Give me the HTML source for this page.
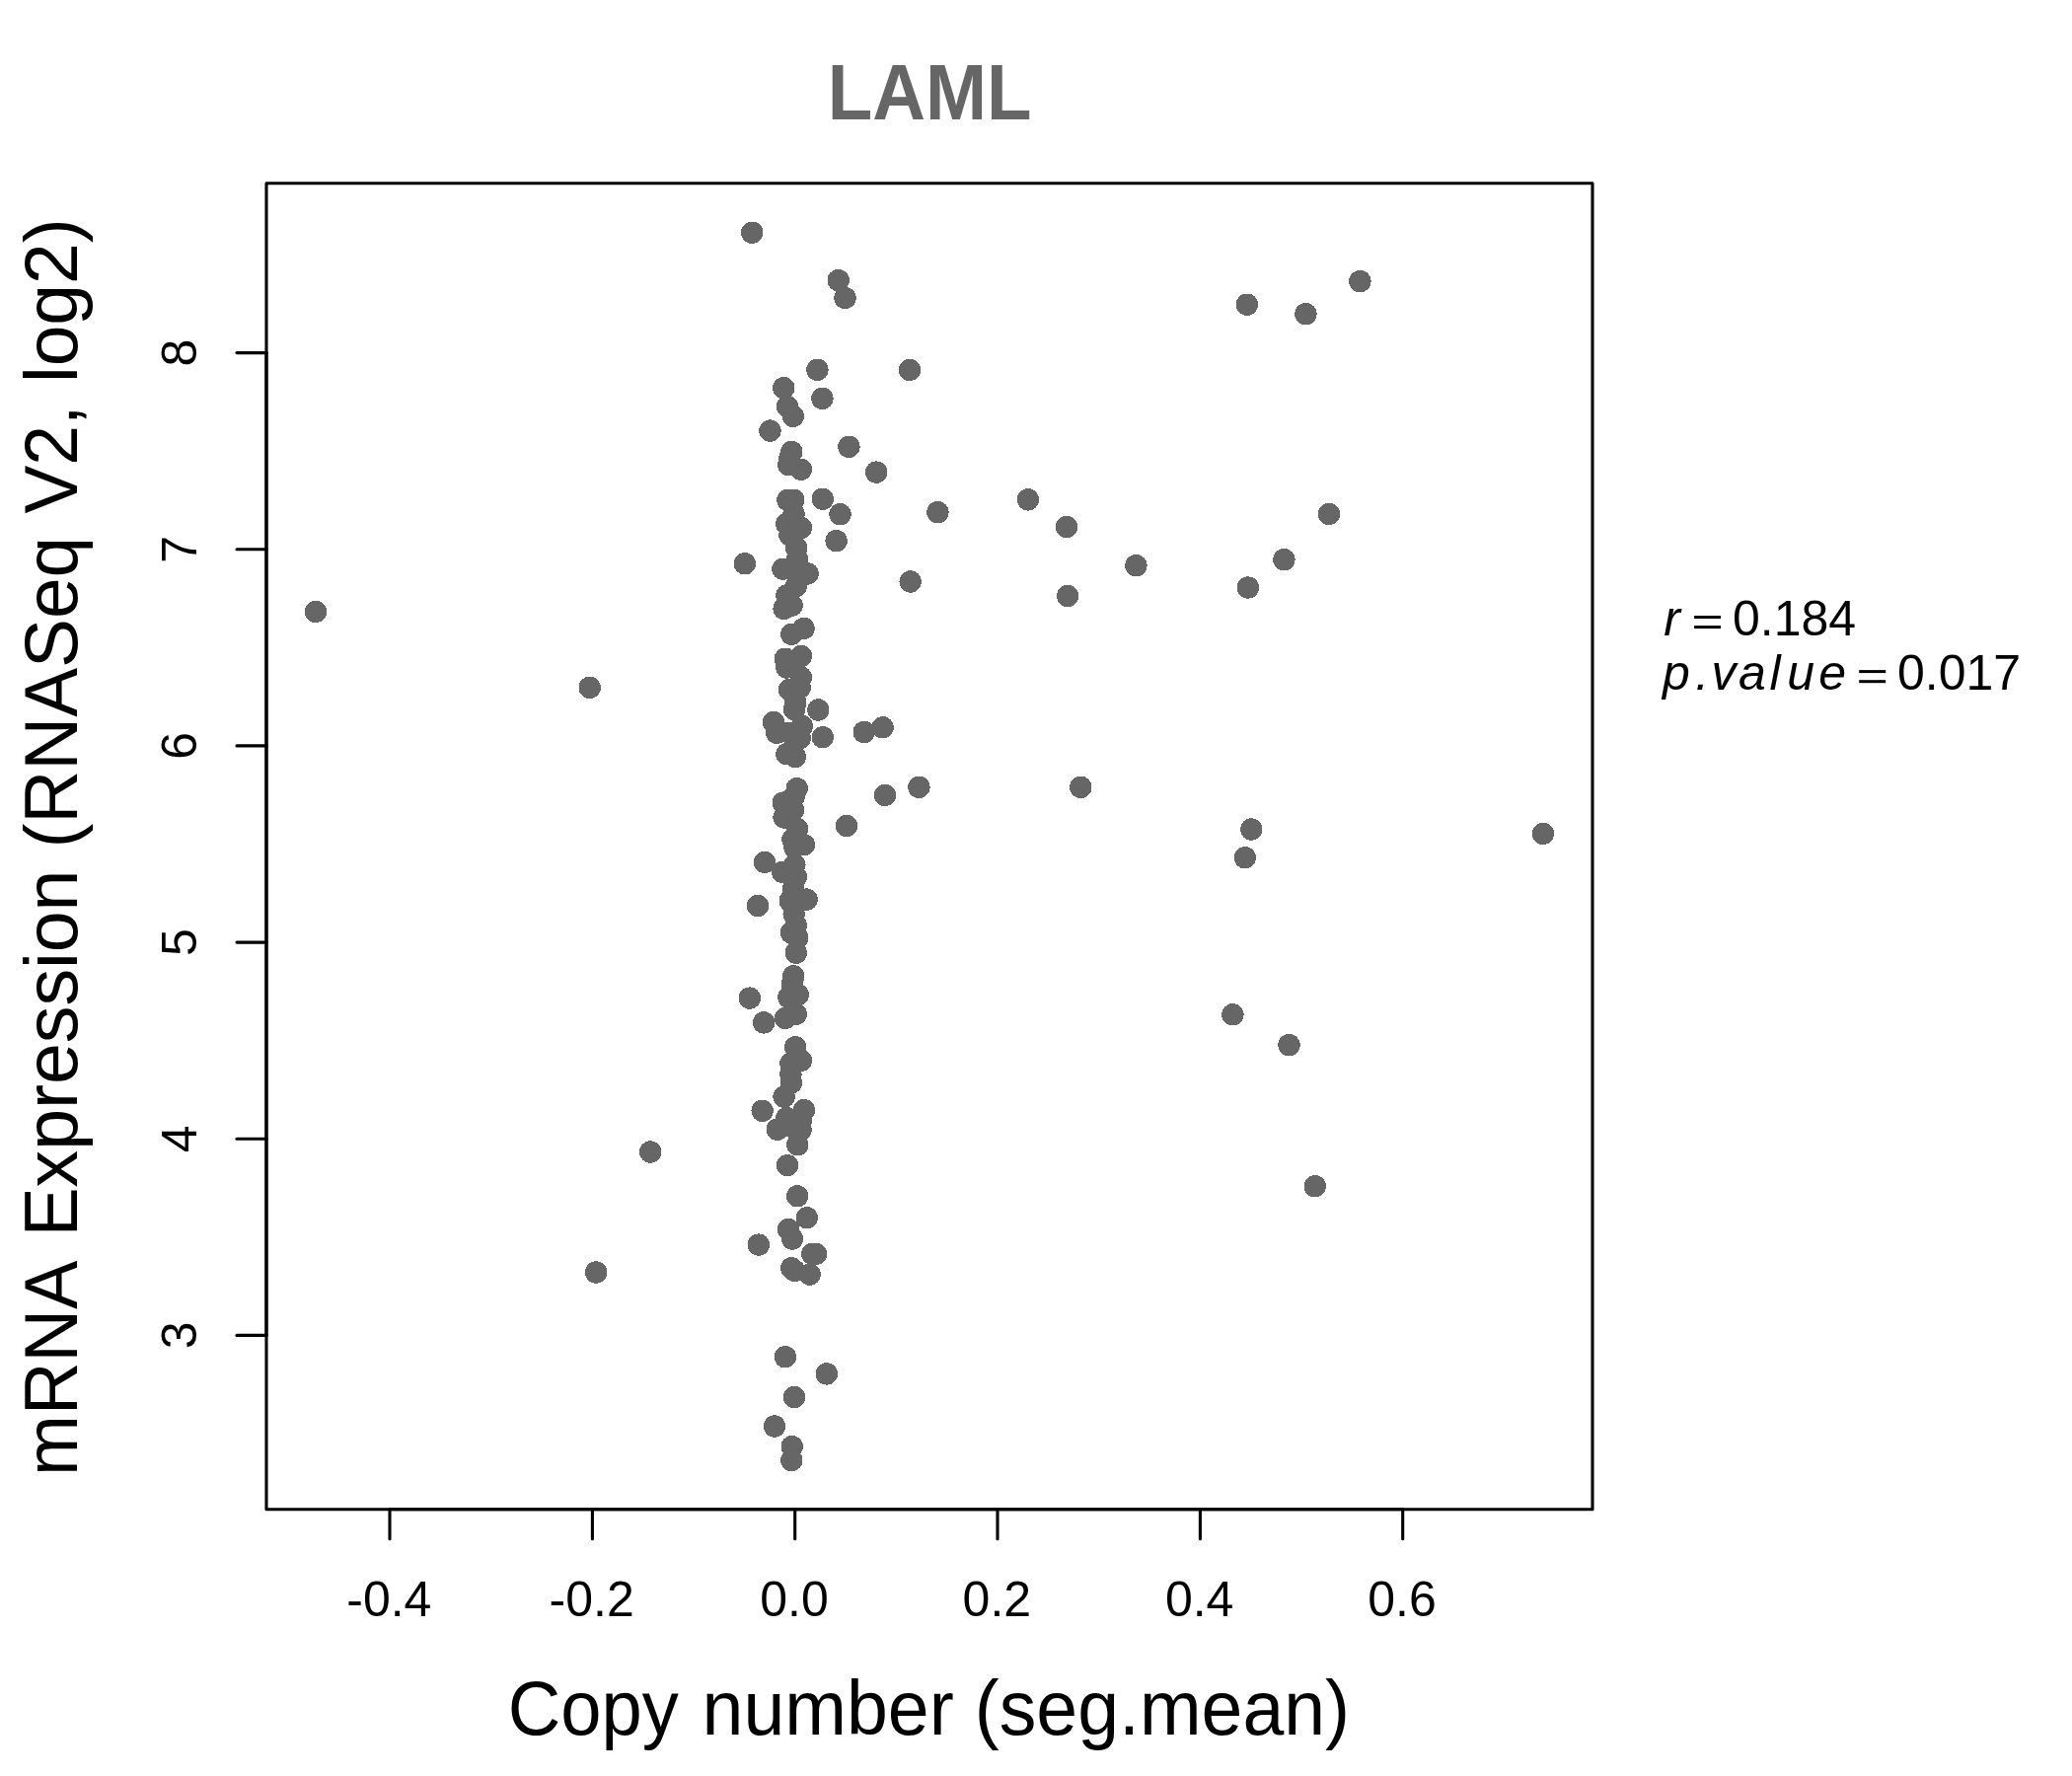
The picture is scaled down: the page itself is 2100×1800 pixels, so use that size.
<!DOCTYPE html>
<html><head><meta charset="utf-8"><title>LAML</title>
<style>
html,body{margin:0;padding:0;background:#fff;}
body{width:2100px;height:1800px;overflow:hidden;}
svg{display:block;}
text{font-family:"Liberation Sans",sans-serif;}
</style></head><body>
<svg width="2100" height="1800" viewBox="0 0 2100 1800">
<rect x="0" y="0" width="2100" height="1800" fill="#ffffff"/>
<g fill="#666666" shape-rendering="crispEdges">
<circle cx="762.2" cy="235.7" r="11.2"/><circle cx="849.7" cy="284.1" r="11.2"/><circle cx="856.5" cy="302.0" r="11.2"/><circle cx="828.4" cy="374.9" r="11.2"/><circle cx="922.0" cy="374.9" r="11.2"/><circle cx="794.3" cy="393.1" r="11.2"/><circle cx="833.4" cy="403.9" r="11.2"/><circle cx="798.0" cy="411.8" r="11.2"/><circle cx="803.8" cy="421.9" r="11.2"/><circle cx="780.5" cy="436.6" r="11.2"/><circle cx="860.4" cy="452.8" r="11.2"/><circle cx="802.3" cy="458.0" r="11.2"/><circle cx="799.3" cy="471.1" r="11.2"/><circle cx="811.9" cy="475.8" r="11.2"/><circle cx="888.2" cy="478.6" r="11.2"/><circle cx="833.8" cy="505.7" r="11.2"/><circle cx="798.4" cy="507.0" r="11.2"/><circle cx="804.3" cy="506.8" r="11.2"/><circle cx="851.5" cy="521.2" r="11.2"/><circle cx="950.4" cy="519.2" r="11.2"/><circle cx="804.5" cy="520.8" r="11.2"/><circle cx="797.2" cy="530.9" r="11.2"/><circle cx="811.9" cy="535.0" r="11.2"/><circle cx="800.5" cy="542.5" r="11.2"/><circle cx="807.2" cy="555.4" r="11.2"/><circle cx="808.0" cy="567.0" r="11.2"/><circle cx="793.5" cy="576.7" r="11.2"/><circle cx="818.6" cy="581.4" r="11.2"/><circle cx="807.4" cy="580.5" r="11.2"/><circle cx="806.8" cy="594.0" r="11.2"/><circle cx="797.3" cy="603.5" r="11.2"/><circle cx="802.7" cy="613.6" r="11.2"/><circle cx="794.6" cy="617.0" r="11.2"/><circle cx="847.6" cy="548.1" r="11.2"/><circle cx="754.9" cy="571.3" r="11.2"/><circle cx="922.7" cy="589.5" r="11.2"/><circle cx="320.0" cy="619.9" r="11.2"/><circle cx="597.7" cy="696.9" r="11.2"/><circle cx="814.6" cy="637.0" r="11.2"/><circle cx="802.3" cy="642.7" r="11.2"/><circle cx="811.9" cy="665.0" r="11.2"/><circle cx="795.9" cy="667.7" r="11.2"/><circle cx="797.3" cy="676.5" r="11.2"/><circle cx="811.9" cy="686.6" r="11.2"/><circle cx="800.0" cy="698.8" r="11.2"/><circle cx="810.8" cy="696.8" r="11.2"/><circle cx="806.3" cy="712.0" r="11.2"/><circle cx="805.0" cy="719.0" r="11.2"/><circle cx="829.3" cy="719.5" r="11.2"/><circle cx="784.1" cy="731.9" r="11.2"/><circle cx="812.8" cy="736.0" r="11.2"/><circle cx="787.2" cy="742.7" r="11.2"/><circle cx="800.0" cy="742.7" r="11.2"/><circle cx="810.8" cy="748.1" r="11.2"/><circle cx="797.3" cy="764.3" r="11.2"/><circle cx="805.8" cy="767.0" r="11.2"/><circle cx="833.8" cy="747.2" r="11.2"/><circle cx="875.7" cy="742.0" r="11.2"/><circle cx="894.6" cy="737.3" r="11.2"/><circle cx="931.4" cy="797.8" r="11.2"/><circle cx="897.0" cy="805.9" r="11.2"/><circle cx="858.1" cy="837.0" r="11.2"/><circle cx="807.7" cy="799.1" r="11.2"/><circle cx="804.7" cy="807.6" r="11.2"/><circle cx="793.9" cy="813.6" r="11.2"/><circle cx="804.1" cy="821.1" r="11.2"/><circle cx="794.6" cy="828.5" r="11.2"/><circle cx="808.1" cy="840.0" r="11.2"/><circle cx="803.4" cy="850.8" r="11.2"/><circle cx="814.9" cy="856.2" r="11.2"/><circle cx="805.4" cy="858.9" r="11.2"/><circle cx="775.0" cy="873.8" r="11.2"/><circle cx="805.4" cy="876.5" r="11.2"/><circle cx="793.2" cy="883.9" r="11.2"/><circle cx="806.8" cy="888.6" r="11.2"/><circle cx="817.6" cy="911.6" r="11.2"/><circle cx="800.7" cy="913.0" r="11.2"/><circle cx="804.7" cy="926.5" r="11.2"/><circle cx="806.8" cy="938.0" r="11.2"/><circle cx="802.0" cy="945.4" r="11.2"/><circle cx="808.1" cy="950.5" r="11.2"/><circle cx="806.8" cy="965.7" r="11.2"/><circle cx="768.0" cy="918.1" r="11.2"/><circle cx="804.3" cy="989.3" r="11.2"/><circle cx="802.7" cy="998.1" r="11.2"/><circle cx="808.8" cy="1008.2" r="11.2"/><circle cx="799.3" cy="1010.9" r="11.2"/><circle cx="759.9" cy="1011.6" r="11.2"/><circle cx="806.8" cy="1027.8" r="11.2"/><circle cx="795.9" cy="1031.9" r="11.2"/><circle cx="774.1" cy="1036.4" r="11.2"/><circle cx="806.1" cy="1061.2" r="11.2"/><circle cx="811.9" cy="1074.9" r="11.2"/><circle cx="801.4" cy="1077.8" r="11.2"/><circle cx="801.4" cy="1088.6" r="11.2"/><circle cx="802.0" cy="1097.4" r="11.2"/><circle cx="794.6" cy="1111.6" r="11.2"/><circle cx="772.6" cy="1125.8" r="11.2"/><circle cx="814.9" cy="1125.1" r="11.2"/><circle cx="797.3" cy="1133.2" r="11.2"/><circle cx="812.2" cy="1134.6" r="11.2"/><circle cx="787.8" cy="1144.7" r="11.2"/><circle cx="811.5" cy="1145.4" r="11.2"/><circle cx="808.3" cy="1160.3" r="11.2"/><circle cx="798.0" cy="1181.2" r="11.2"/><circle cx="808.1" cy="1212.3" r="11.2"/><circle cx="817.8" cy="1234.2" r="11.2"/><circle cx="799.1" cy="1246.1" r="11.2"/><circle cx="803.0" cy="1255.5" r="11.2"/><circle cx="768.9" cy="1261.6" r="11.2"/><circle cx="823.2" cy="1270.8" r="11.2"/><circle cx="827.0" cy="1270.8" r="11.2"/><circle cx="802.3" cy="1285.3" r="11.2"/><circle cx="805.4" cy="1288.0" r="11.2"/><circle cx="820.7" cy="1291.6" r="11.2"/><circle cx="795.9" cy="1375.2" r="11.2"/><circle cx="837.8" cy="1392.4" r="11.2"/><circle cx="805.0" cy="1416.1" r="11.2"/><circle cx="785.0" cy="1445.5" r="11.2"/><circle cx="802.7" cy="1466.1" r="11.2"/><circle cx="802.3" cy="1480.0" r="11.2"/><circle cx="659.2" cy="1167.5" r="11.2"/><circle cx="604.1" cy="1289.5" r="11.2"/><circle cx="1378.4" cy="285.1" r="11.2"/><circle cx="1263.9" cy="308.7" r="11.2"/><circle cx="1323.4" cy="318.2" r="11.2"/><circle cx="1042.0" cy="506.4" r="11.2"/><circle cx="1081.1" cy="534.1" r="11.2"/><circle cx="1347.0" cy="520.9" r="11.2"/><circle cx="1301.4" cy="567.2" r="11.2"/><circle cx="1151.4" cy="573.2" r="11.2"/><circle cx="1264.9" cy="595.5" r="11.2"/><circle cx="1082.2" cy="604.0" r="11.2"/><circle cx="1095.3" cy="797.9" r="11.2"/><circle cx="1268.3" cy="840.5" r="11.2"/><circle cx="1563.9" cy="844.9" r="11.2"/><circle cx="1261.9" cy="869.2" r="11.2"/><circle cx="1249.4" cy="1028.3" r="11.2"/><circle cx="1306.5" cy="1059.1" r="11.2"/><circle cx="1332.8" cy="1202.3" r="11.2"/><circle cx="800.3" cy="464.7" r="11.2"/><circle cx="804.1" cy="900.8" r="11.2"/><circle cx="800.0" cy="1141.4" r="11.2"/>
</g>
<g stroke="#000" stroke-width="3.1" fill="none" stroke-linecap="round" stroke-linejoin="round">
<rect x="270.0" y="185.7" width="1344.0" height="1344.1"/>
<line x1="395.0" y1="1529.8" x2="1421.7" y2="1529.8"/>
<line x1="395.0" y1="1529.8" x2="395.0" y2="1559.8"/><line x1="600.4" y1="1529.8" x2="600.4" y2="1559.8"/><line x1="805.7" y1="1529.8" x2="805.7" y2="1559.8"/><line x1="1011.0" y1="1529.8" x2="1011.0" y2="1559.8"/><line x1="1216.4" y1="1529.8" x2="1216.4" y2="1559.8"/><line x1="1421.7" y1="1529.8" x2="1421.7" y2="1559.8"/>
<line x1="270.0" y1="357.6" x2="270.0" y2="1353.4"/>
<line x1="270.0" y1="357.6" x2="240.0" y2="357.6"/><line x1="270.0" y1="556.8" x2="240.0" y2="556.8"/><line x1="270.0" y1="755.9" x2="240.0" y2="755.9"/><line x1="270.0" y1="955.1" x2="240.0" y2="955.1"/><line x1="270.0" y1="1154.2" x2="240.0" y2="1154.2"/><line x1="270.0" y1="1353.4" x2="240.0" y2="1353.4"/>
</g>
<text transform="translate(942.15 120.90) scale(0.9310 1.0000)" font-size="80" text-anchor="middle" fill="#666666" font-weight="bold">LAML</text>
<text transform="translate(514.70 1758.10) scale(0.9895 1.0300)" font-size="75" text-anchor="start" fill="#000" >Copy</text>
<text transform="translate(711.60 1758.10) scale(1.0036 1.0300)" font-size="75" text-anchor="start" fill="#000" >number</text>
<text transform="translate(987.70 1758.10) scale(1.0030 1.0300)" font-size="75" text-anchor="start" fill="#000" >(seg.mean)</text>
<text transform="translate(78.00 1495.90) rotate(-90) scale(0.9890 1.0150)" font-size="75" text-anchor="start" fill="#000" >mRNA</text>
<text transform="translate(78.00 1253.60) rotate(-90) scale(1.0030 1.0150)" font-size="75" text-anchor="start" fill="#000" >Expression</text>
<text transform="translate(78.00 859.50) rotate(-90) scale(0.9960 1.0150)" font-size="75" text-anchor="start" fill="#000" >(RNASeq</text>
<text transform="translate(78.00 520.60) rotate(-90) scale(0.9780 1.0150)" font-size="75" text-anchor="start" fill="#000" >V2,</text>
<text transform="translate(78.00 388.00) rotate(-90) scale(1.0000 1.0150)" font-size="75" text-anchor="start" fill="#000" >log2)</text>
<text transform="translate(394.34 1638.30)" font-size="50" text-anchor="middle" fill="#000" >-0.4</text>
<text transform="translate(599.67 1638.30)" font-size="50" text-anchor="middle" fill="#000" >-0.2</text>
<text transform="translate(805.00 1638.30)" font-size="50" text-anchor="middle" fill="#000" >0.0</text>
<text transform="translate(1010.33 1638.30)" font-size="50" text-anchor="middle" fill="#000" >0.2</text>
<text transform="translate(1215.66 1638.30)" font-size="50" text-anchor="middle" fill="#000" >0.4</text>
<text transform="translate(1420.99 1638.30)" font-size="50" text-anchor="middle" fill="#000" >0.6</text>
<text transform="translate(199.10 357.60) rotate(-90)" font-size="50" text-anchor="middle" fill="#000" >8</text>
<text transform="translate(199.10 556.76) rotate(-90)" font-size="50" text-anchor="middle" fill="#000" >7</text>
<text transform="translate(199.10 755.92) rotate(-90)" font-size="50" text-anchor="middle" fill="#000" >6</text>
<text transform="translate(199.10 955.08) rotate(-90)" font-size="50" text-anchor="middle" fill="#000" >5</text>
<text transform="translate(199.10 1154.24) rotate(-90)" font-size="50" text-anchor="middle" fill="#000" >4</text>
<text transform="translate(199.10 1353.40) rotate(-90)" font-size="50" text-anchor="middle" fill="#000" >3</text>
<text transform="translate(1686.30 644.10)" font-size="50" text-anchor="start" fill="#000" font-style="italic" >r</text>
<text transform="translate(1756.00 644.10)" font-size="50" text-anchor="start" fill="#000" >0.184</text>
<text transform="translate(1685.00 699.20)" font-size="50" text-anchor="start" fill="#000" font-style="italic" letter-spacing="3.5" dx="0 1.9 -1.2 -1.0 0.3 3 0.7" >p.value</text>
<text transform="translate(1923.00 699.20)" font-size="50" text-anchor="start" fill="#000" >0.017</text>
<rect x="1717.1" y="624.0" width="26.9" height="3"/><rect x="1717.1" y="634.1" width="26.9" height="3"/>
<rect x="1884.2" y="679.1" width="27.0" height="3"/><rect x="1884.2" y="689.2" width="27.0" height="3"/>
</svg>
</body></html>
